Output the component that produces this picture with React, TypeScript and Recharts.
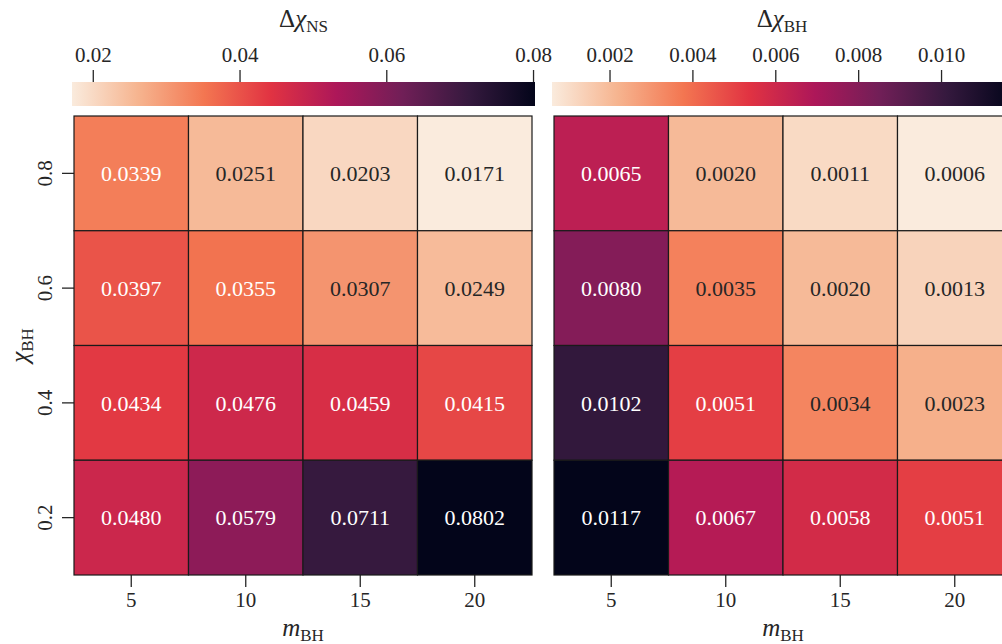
import React from 'react';
import {
  ScatterChart,
  Scatter,
  AreaChart,
  Area,
  XAxis,
  YAxis,
  Label,
} from 'recharts';

// black hole mass (columns) and spin (rows, top to bottom)
const massBH = [5, 10, 15, 20];
const chiBH = [0.8, 0.6, 0.4, 0.2];

// Δχ_NS, one row per spin
const dChiNS = [
  [0.0339, 0.0251, 0.0203, 0.0171],
  [0.0397, 0.0355, 0.0307, 0.0249],
  [0.0434, 0.0476, 0.0459, 0.0415],
  [0.048, 0.0579, 0.0711, 0.0802],
];

// Δχ_BH, one row per spin
const dChiBH = [
  [0.0065, 0.002, 0.0011, 0.0006],
  [0.008, 0.0035, 0.002, 0.0013],
  [0.0102, 0.0051, 0.0034, 0.0023],
  [0.0117, 0.0067, 0.0058, 0.0051],
];

const nsTicks = [0.02, 0.04, 0.06, 0.08];
const bhTicks = [0.002, 0.004, 0.006, 0.008, 0.01];

// seaborn "rocket", dark -> light
const rocket = ['#03051a', '#35193e', '#701f57', '#ad1759', '#e13342', '#f37651', '#f6b48f', '#faebdd'];

const FONT = '"Liberation Serif", "DejaVu Serif", serif';
const INK = '#262626';
const TICK_FS = 21;
const CELL_FS = 22;
const LABEL_FS = 25;

const PLOT_TOP = 116;
const PLOT_BOTTOM = 575;
const CELL_W = 458 / massBH.length;
const CELL_H = (PLOT_BOTTOM - PLOT_TOP) / chiBH.length;

const hex = (h: string) => [1, 3, 5].map((i) => parseInt(h.slice(i, i + 2), 16));

// reversed rocket: 0 -> light, 1 -> dark
const rocketR = (t: number) => {
  const c = Math.max(0, Math.min(1, t));
  const p = (1 - c) * (rocket.length - 1);
  const i = Math.min(Math.floor(p), rocket.length - 2);
  const f = p - i;
  const a = hex(rocket[i]);
  const b = hex(rocket[i + 1]);
  const rgb = a.map((v, k) => Math.round(v + (b[k] - v) * f));
  return `rgb(${rgb.join(',')})`;
};

const gridMin = (g: number[][]) => Math.min(...g.flat());
const gridMax = (g: number[][]) => Math.max(...g.flat());

const toPoints = (grid: number[][]) =>
  grid.flatMap((row, i) => row.map((v, j) => ({ m: massBH[j], chi: chiBH[i], v })));

const makeCell = (vmin: number, vmax: number) => (props: any) => {
  const { cx, cy, payload } = props;
  const t = (payload.v - vmin) / (vmax - vmin);
  return (
    <g>
      <rect
        x={cx - CELL_W / 2}
        y={cy - CELL_H / 2}
        width={CELL_W}
        height={CELL_H}
        fill={rocketR(t)}
        stroke="#1a1a1a"
        strokeWidth={1.2}
      />
      <text
        x={cx}
        y={cy}
        dy="0.35em"
        textAnchor="middle"
        fontSize={CELL_FS}
        fontFamily={FONT}
        fill={t > 0.263 ? '#ffffff' : INK}
      >
        {payload.v.toFixed(4)}
      </text>
    </g>
  );
};

const XTick = ({ x, y, payload }: any) => (
  <text x={x} y={y + 18} textAnchor="middle" fontSize={TICK_FS} fontFamily={FONT} fill={INK}>
    {payload.value}
  </text>
);

const YTick = ({ x, y, payload }: any) => (
  <text
    x={x - 8}
    y={y}
    transform={`rotate(-90, ${x - 8}, ${y})`}
    textAnchor="middle"
    fontSize={TICK_FS}
    fontFamily={FONT}
    fill={INK}
  >
    {payload.value.toFixed(1)}
  </text>
);

const makeTopTick = (digits: number) => ({ x, y, payload }: any) => (
  <text x={x} y={y - 6} textAnchor="middle" fontSize={TICK_FS} fontFamily={FONT} fill={INK}>
    {payload.value.toFixed(digits)}
  </text>
);

// symbol with roman subscript, e.g. χ_BH
const Sym = ({ x, y, pre, sym, sub, rotate }: any) => (
  <text
    x={x}
    y={y}
    textAnchor="middle"
    fontSize={LABEL_FS}
    fontFamily={FONT}
    fill={INK}
    transform={rotate ? `rotate(-90, ${x}, ${y})` : undefined}
  >
    {pre}
    <tspan fontStyle="italic">{sym}</tspan>
    <tspan fontSize={17} dy={5}>{sub}</tspan>
  </text>
);

const HeatPanel = ({ grid, left, width, marginLeft, showY }: any) => {
  const vmin = gridMin(grid);
  const vmax = gridMax(grid);
  return (
    <div style={{ position: 'absolute', left, top: 0 }}>
      <ScatterChart
        width={width}
        height={644}
        margin={{ top: PLOT_TOP, right: 8, bottom: 644 - PLOT_BOTTOM - 45, left: marginLeft }}
      >
        <XAxis
          dataKey="m"
          type="number"
          domain={[2.5, 22.5]}
          ticks={massBH}
          height={45}
          axisLine={false}
          tickSize={12}
          tickLine={{ stroke: INK, strokeWidth: 1.3 }}
          tick={<XTick />}
          interval={0}
        >
          <Label
            content={({ viewBox }: any) => (
              <Sym x={viewBox.x + viewBox.width / 2} y={636} sym="m" sub="BH" />
            )}
          />
        </XAxis>
        <YAxis
          dataKey="chi"
          type="number"
          domain={[0.1, 0.9]}
          ticks={chiBH}
          width={60}
          hide={!showY}
          axisLine={false}
          tickSize={12}
          tickLine={{ stroke: INK, strokeWidth: 1.3 }}
          tick={<YTick />}
          interval={0}
        >
          <Label
            content={({ viewBox }: any) => (
              <Sym x={28} y={viewBox.y + viewBox.height / 2} sym="χ" sub="BH" rotate />
            )}
          />
        </YAxis>
        <Scatter data={toPoints(grid)} shape={makeCell(vmin, vmax)} isAnimationActive={false} />
      </ScatterChart>
    </div>
  );
};

const ColorBar = ({ grid, id, ticks, digits, left, width, marginLeft, marginRight, sub }: any) => {
  const vmin = gridMin(grid);
  const vmax = gridMax(grid);
  const TopTick = makeTopTick(digits);
  // the bar spans the data range at full height
  const barData = [
    { x: vmin, y: 1 },
    { x: vmax, y: 1 },
  ];
  return (
    <div style={{ position: 'absolute', left, top: 0 }}>
      <AreaChart
        width={width}
        height={110}
        data={barData}
        margin={{ top: 42, right: marginRight, bottom: 4, left: marginLeft }}
      >
        <defs>
          <linearGradient id={id} x1="0" y1="0" x2="1" y2="0">
            {rocket
              .slice()
              .reverse()
              .map((c, i) => (
                <stop key={i} offset={i / (rocket.length - 1)} stopColor={c} />
              ))}
          </linearGradient>
        </defs>
        <XAxis
          dataKey="x"
          type="number"
          orientation="top"
          domain={[vmin, vmax]}
          allowDataOverflow
          ticks={ticks}
          height={40}
          axisLine={false}
          tickSize={12}
          tickLine={{ stroke: INK, strokeWidth: 1.3 }}
          tick={<TopTick />}
          interval={0}
        >
          <Label
            content={({ viewBox }: any) => (
              <Sym x={viewBox.x + viewBox.width / 2} y={27} pre="Δ" sym="χ" sub={sub} />
            )}
          />
        </XAxis>
        <YAxis type="number" domain={[0, 1]} hide />
        <Area
          dataKey="y"
          type="linear"
          stroke="none"
          fill={`url(#${id})`}
          fillOpacity={1}
          baseValue={0}
          isAnimationActive={false}
          dot={false}
          activeDot={false}
        />
      </AreaChart>
    </div>
  );
};

export default function App() {
  return (
    <div
      style={{
        position: 'absolute',
        left: 0,
        top: 0,
        width: 1002,
        height: 644,
        overflow: 'hidden',
        background: '#ffffff',
      }}
    >
      <ColorBar grid={dChiNS} id="gradNS" ticks={nsTicks} digits={2} left={0} width={560} marginLeft={72} marginRight={25} sub="NS" />
      <ColorBar grid={dChiBH} id="gradBH" ticks={bhTicks} digits={3} left={540} width={480} marginLeft={12} marginRight={8} sub="BH" />
      <HeatPanel grid={dChiNS} left={0} width={540} marginLeft={14} showY />
      <HeatPanel grid={dChiBH} left={540} width={480} marginLeft={14} showY={false} />
    </div>
  );
}
